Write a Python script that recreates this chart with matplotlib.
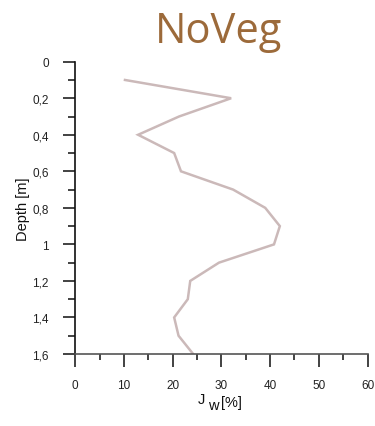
import matplotlib
matplotlib.use("Agg")
import matplotlib.pyplot as plt
from matplotlib.ticker import MultipleLocator, FuncFormatter

# Soil moisture profile (NoVeg plot)
depth = [0.1, 0.2, 0.3, 0.4, 0.5, 0.6, 0.7, 0.8, 0.9, 1.0, 1.1, 1.2, 1.3, 1.4, 1.5, 1.6]
moisture = [10.2, 32.0, 21.3, 12.9, 20.3, 21.7, 32.4, 39.0, 42.0, 40.8, 29.5, 23.6, 23.1, 20.3, 21.2, 24.2]

title = "NoVeg"
ylabel = "Depth [m]"

plt.rcParams["font.family"] = ["Liberation Sans", "DejaVu Sans"]

W, H = 375, 427
fig = plt.figure(figsize=(W / 100, H / 100), dpi=100)
ax = fig.add_axes([75.3 / W, 1 - 355 / H, (367.5 - 75.3) / W, (355 - 62.7) / H])

ax.plot(moisture, depth, color="#cbb9b9", lw=1.8, solid_joinstyle="miter")

ax.set_xlim(0, 60)
ax.set_ylim(1.6, 0)

ax.xaxis.set_major_locator(MultipleLocator(10))
ax.xaxis.set_minor_locator(MultipleLocator(5))
ax.yaxis.set_major_locator(MultipleLocator(0.2))
ax.yaxis.set_minor_locator(MultipleLocator(0.1))

def comma_fmt(v, pos):
    s = f"{v:.1f}".rstrip("0").rstrip(".")
    return s.replace(".", ",")

ax.yaxis.set_major_formatter(FuncFormatter(comma_fmt))
ax.xaxis.set_major_formatter(FuncFormatter(lambda v, p: f"{v:.0f}"))

for s in ("top", "right"):
    ax.spines[s].set_visible(False)
ax.spines["left"].set_color("#111111")
ax.spines["bottom"].set_color("#555555")
ax.spines["left"].set_linewidth(1.2)
ax.spines["bottom"].set_linewidth(1.2)

ax.tick_params(axis="both", which="major", direction="out", length=9, width=1.2,
               color="#222222", labelsize=8.5, labelcolor="#222222")
ax.tick_params(axis="y", which="minor", direction="out", length=5, width=1.2,
               color="#222222")
ax.tick_params(axis="x", which="minor", direction="out", length=4, width=1.2,
               color="#222222")
ax.tick_params(axis="y", which="major", pad=10)
ax.tick_params(axis="x", which="major", pad=9)

ax.set_ylabel(ylabel, fontsize=10.5, color="#111111", labelpad=2)

# x-axis label: "J" with a lowered "w" and the unit
lab = dict(fontsize=10.5, color="#111111", va="baseline", ha="left")
fig.text(198 / W, 1 - 404 / H, "J", **lab)
fig.text(208.5 / W, 1 - 410.5 / H, "w", **lab)
fig.text(221 / W, 1 - 407 / H, "[%]", **lab)

fig.text(0.582, 0.925, title, ha="center", va="center", fontsize=30,
         color="#9c6a3a", family=["Open Sans", "DejaVu Sans"])

fig.savefig("out.png", dpi=100)
